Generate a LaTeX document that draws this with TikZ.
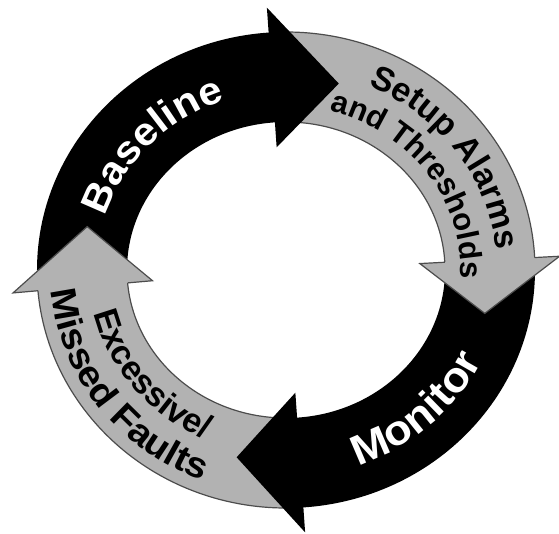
\documentclass[tikz,border=0pt]{standalone}
\usepackage{fontspec}
\setmainfont{Liberation Sans}
\newfontfamily\ringfont{Liberation Sans}
\newfontfamily\wideringfont[FakeStretch=1.08]{Liberation Sans}
\usetikzlibrary{decorations.text}

\tikzset{
  darkarrow/.style={fill=black},
  greyarrow/.style={fill=black!30, draw=black!70, line width=1.2pt},
  ringtext/.style={decorate, decoration={text along path, text align=center, text={#1}}},
}

\newcommand{\ringbody}[3]{%
  \path[#1] (#2:249 and 238) arc[start angle=#2, end angle=#3, x radius=249, y radius=238]
    -- (#3:159 and 148) arc[start angle=#3, end angle=#2, x radius=159, y radius=148] -- cycle;}
\newcommand{\ringhead}[3]{%
  \path[#1] (#2:249 and 238) -- (#2:274 and 263) -- (#3:204 and 193) -- (#2:134 and 123) -- (#2:159 and 148);}

\begin{document}
\begin{tikzpicture}[x=1pt, y=1pt]
  \useasboundingbox (-286,-263) rectangle (273,270);
  \foreach \s/\t/\b/\p [evaluate=\b as \bb using \b-2] in
    {darkarrow/180/94/75, greyarrow/90/3/-13, darkarrow/0/-86/-104, greyarrow/-90/-175/-193}
    \ringbody{\s}{\t}{\bb};
  \foreach \s/\t/\b/\p in
    {darkarrow/180/94/75, greyarrow/90/3/-13, darkarrow/0/-86/-104, greyarrow/-90/-175/-193}
    \ringhead{\s}{\b}{\p};
  \path[ringtext={|\wideringfont\bfseries\fontsize{39}{39}\selectfont\color{white}|Baseline}]
    (176:190 and 179) arc[start angle=176, end angle=96, x radius=190, y radius=179];
  \path[ringtext={|\wideringfont\bfseries\fontsize{42}{42}\selectfont\color{white}|Monitor}]
    (-88:218 and 207) arc[start angle=-88, end angle=-8, x radius=218, y radius=207];
  \path[ringtext={|\ringfont\bfseries\fontsize{34}{34}\selectfont|Setup Alarms}]
    (81:211 and 200) arc[start angle=81, end angle=-9, x radius=211, y radius=200];
  \path[ringtext={|\ringfont\bfseries\fontsize{31}{31}\selectfont|and Thresholds}]
    (86:175 and 164) arc[start angle=86, end angle=-14, x radius=175, y radius=164];
  \path[ringtext={|\ringfont\bfseries\fontsize{34}{34}\selectfont|Excessive/}]
    (174:197 and 186) arc[start angle=174, end angle=264, x radius=197, y radius=186];
  \path[ringtext={|\wideringfont\bfseries\fontsize{36}{36}\selectfont|Missed Faults}]
    (172:236 and 225) arc[start angle=172, end angle=262, x radius=236, y radius=225];
\end{tikzpicture}
\end{document}
